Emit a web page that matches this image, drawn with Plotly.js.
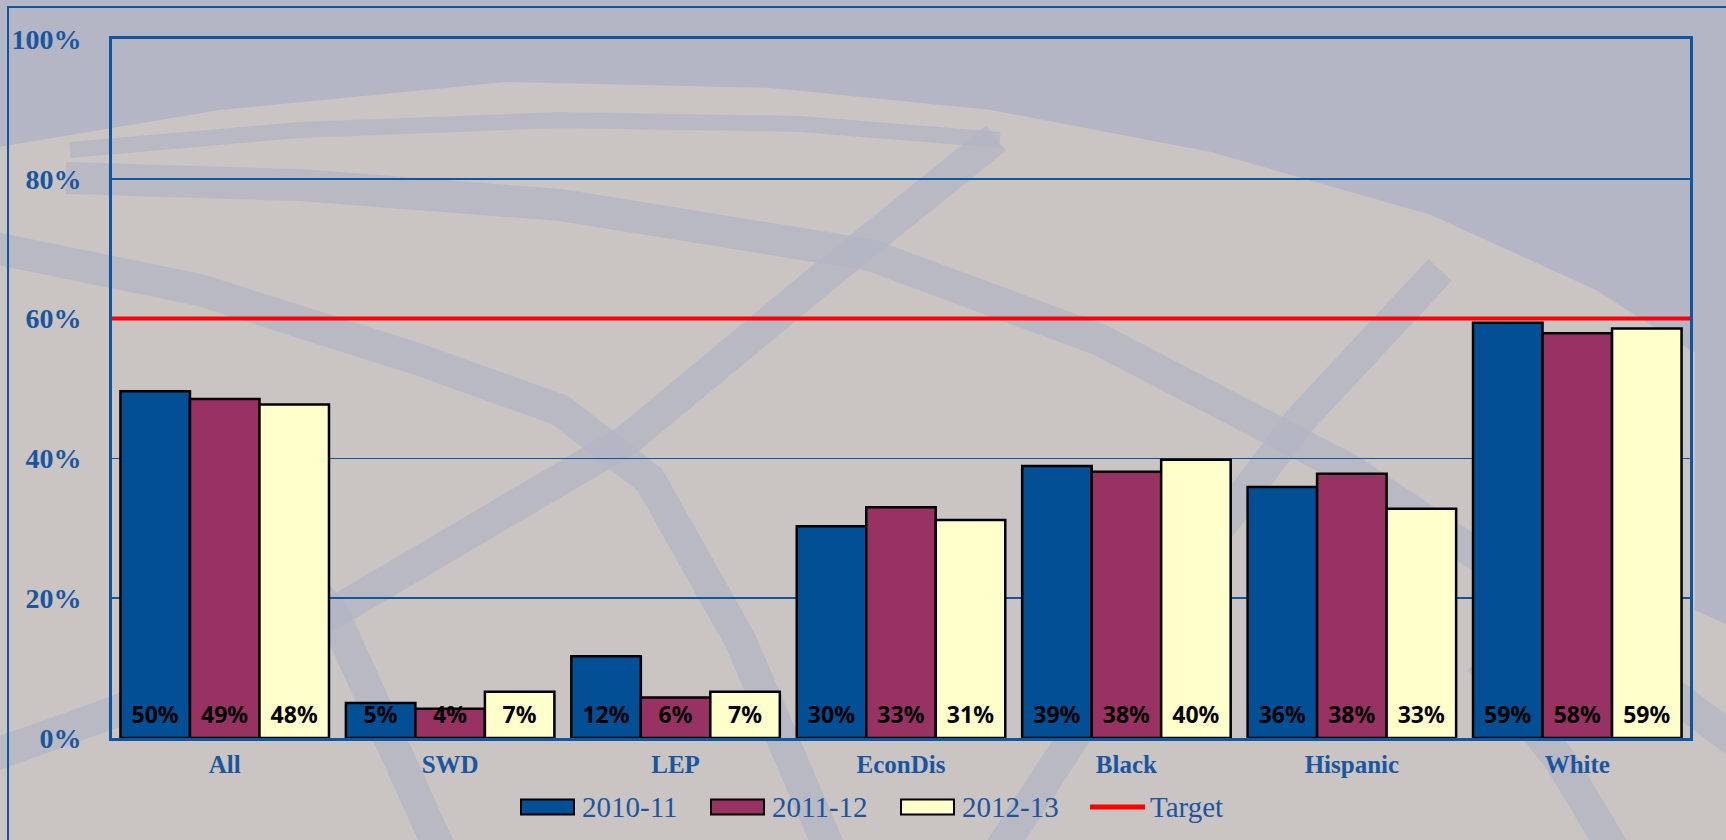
<!DOCTYPE html>
<html>
<head>
<meta charset="utf-8">
<script src="https://cdn.plot.ly/plotly-3.0.1.min.js"></script>
<style>
  html, body { margin: 0; padding: 0; background: #cac5c3; }
  #chart { width: 1726px; height: 840px; }
</style>
</head>
<body>
<div id="chart"></div>
<script>
// ---- data ----
const categories = ['All', 'SWD', 'LEP', 'EconDis', 'Black', 'Hispanic', 'White'];
const seriesNames = ['2010-11', '2011-12', '2012-13'];
const rate2010_11 = [49.6, 5.0, 11.7, 30.3, 38.9, 35.9, 59.4];
const rate2011_12 = [48.5, 4.2, 5.8, 33.0, 38.1, 37.8, 57.9];
const rate2012_13 = [47.7, 6.6, 6.6, 31.2, 39.8, 32.8, 58.6];
const targetName = 'Target';
const targetValue = 60;
const yTickValues = [0, 20, 40, 60, 80, 100];
const yTickLabels = ['0%', '20%', '40%', '60%', '80%', '100%'];

// ---- styles ----
const barColors = ['#024f96', '#983262', '#ffffcc'];
const targetColor = '#ff0000';
const axisBlue = '#0f55a0';
const textBlue = '#1a56a0';
const bgBlue = '#b4b6c5';
const bgBeige = '#cac5c3';
const serif = 'Liberation Serif, Times New Roman, serif';

// plot-area geometry (pixels) used to place decorative shapes and the custom legend
const M = { l: 112, r: 36, t: 39, b: 102 };
const W = 1726, H = 840;
const PW = W - M.l - M.r, PH = H - M.t - M.b;
const fx = x => (x - M.l) / PW;
const fy = y => (H - M.b - y) / PH;
const pathFrom = (pts, close) =>
  pts.map((p, i) => (i ? 'L' : 'M') + fx(p[0]).toFixed(4) + ',' + fy(p[1]).toFixed(4)).join(' ') + (close ? ' Z' : '');

// decorative background (pixel coordinates of the swoosh artwork)
const topRegion = [[-20, -20], [1760, -20], [1760, 380], [1690, 350], [1596, 290], [1431, 215], [1211, 152],
  [991, 110], [771, 88], [506, 82], [220, 110], [-20, 150]];
const rightStrip = [[1695, 300], [1760, 300], [1760, 640], [1695, 610]];
const bands = [
  [[70, 150], [300, 130], [560, 120], [800, 124], [1000, 140]],
  [[996, 138], [820, 280], [627, 440], [333, 613], [120, 710], [-20, 760]],
  [[-20, 245], [200, 290], [420, 360], [560, 410], [650, 480], [740, 640], [830, 850]],
  [[1440, 270], [1300, 420], [1150, 620], [1000, 850]],
  [[250, 520], [333, 613], [440, 850]],
  [[66, 178], [300, 185], [560, 205], [870, 255], [1100, 340], [1350, 470], [1560, 610], [1760, 760]],
  [[1480, 660], [1560, 760], [1620, 860]]
];

// custom legend placement (pixels)
const legendY = 807;
const legendBoxX = [521, 711, 901];
const legendBoxW = 53, legendBoxH = 15;
const legendLineX = 1090, legendLineW = 55;
const legendTextGap = 6;
const legendFontSize = 29;

const shapes = [];
shapes.push({ type: 'path', xref: 'paper', yref: 'paper', layer: 'below', path: pathFrom(topRegion, true),
  fillcolor: bgBlue, line: { width: 0 } });
shapes.push({ type: 'path', xref: 'paper', yref: 'paper', layer: 'below', path: pathFrom(rightStrip, true),
  fillcolor: bgBlue, line: { width: 0 } });
bands.forEach((b, i) => shapes.push({ type: 'path', xref: 'paper', yref: 'paper', layer: 'below',
  path: pathFrom(b, false), line: { color: bgBlue, width: i === 0 ? 16 : 32 }, opacity: 0.75 }));
// outer frame
shapes.push({ type: 'path', xref: 'paper', yref: 'paper', layer: 'above',
  path: pathFrom([[8, 860], [8, 7], [1760, 7]], false), line: { color: axisBlue, width: 2 } });
// target line
shapes.push({ type: 'line', xref: 'paper', yref: 'y', x0: 0, x1: 1, y0: targetValue, y1: targetValue,
  layer: 'above', line: { color: targetColor, width: 4 } });

// custom legend
const annotations = [];
seriesNames.forEach((name, i) => {
  const x0 = legendBoxX[i];
  shapes.push({ type: 'rect', xref: 'paper', yref: 'paper', layer: 'above',
    x0: fx(x0), x1: fx(x0 + legendBoxW), y0: fy(legendY - legendBoxH / 2), y1: fy(legendY + legendBoxH / 2),
    fillcolor: barColors[i], line: { color: '#000000', width: 2 } });
  annotations.push({ xref: 'paper', yref: 'paper', x: fx(x0 + legendBoxW + legendTextGap), y: fy(legendY),
    xanchor: 'left', yanchor: 'middle', showarrow: false, text: name,
    font: { family: serif, size: legendFontSize, color: textBlue } });
});
shapes.push({ type: 'line', xref: 'paper', yref: 'paper', layer: 'above',
  x0: fx(legendLineX), x1: fx(legendLineX + legendLineW), y0: fy(legendY), y1: fy(legendY),
  line: { color: targetColor, width: 5 } });
annotations.push({ xref: 'paper', yref: 'paper', x: fx(legendLineX + legendLineW + 3), y: fy(legendY),
  xanchor: 'left', yanchor: 'middle', showarrow: false, text: targetName,
  font: { family: serif, size: legendFontSize, color: textBlue } });

const seriesValues = [rate2010_11, rate2011_12, rate2012_13];
const traces = seriesValues.map((vals, i) => ({
  type: 'bar',
  name: seriesNames[i],
  x: categories,
  y: vals,
  marker: { color: barColors[i], line: { color: '#000000', width: 2.5 } },
  texttemplate: '<span style="font-size:23px">%{y:.0f}%</span><br> ',
  textposition: 'inside',
  insidetextanchor: 'start',
  textangle: 0,
  constraintext: 'none',
  textfont: { family: 'Noto Sans, Open Sans, sans-serif', size: 8, color: '#000000', weight: 'bold' },
  cliponaxis: false,
  showlegend: false,
  hoverinfo: 'x+y+name'
}));

const layout = {
  width: W, height: H,
  margin: M,
  paper_bgcolor: bgBeige,
  plot_bgcolor: 'rgba(0,0,0,0)',
  barmode: 'group',
  bargap: 0.075,
  bargroupgap: 0,
  uniformtext: { mode: 'show', minsize: 8 },
  showlegend: false,
  xaxis: {
    type: 'category',
    showline: true, linecolor: axisBlue, linewidth: 3, mirror: true,
    showgrid: false, ticks: '', ticklabelstandoff: 2,
    tickfont: { family: serif, size: 25, color: textBlue, weight: 'bold' }
  },
  yaxis: {
    range: [0, 100], tickmode: 'array', tickvals: yTickValues, ticktext: yTickLabels,
    showline: true, linecolor: axisBlue, linewidth: 3, mirror: true,
    showgrid: true, gridcolor: axisBlue, gridwidth: 1.5,
    zeroline: false, ticks: '', ticklabelstandoff: 22,
    tickfont: { family: serif, size: 28, color: textBlue, weight: 'bold' }
  },
  shapes: shapes,
  annotations: annotations
};

Plotly.newPlot('chart', traces, layout, { displayModeBar: false, staticPlot: true });
</script>
</body>
</html>
